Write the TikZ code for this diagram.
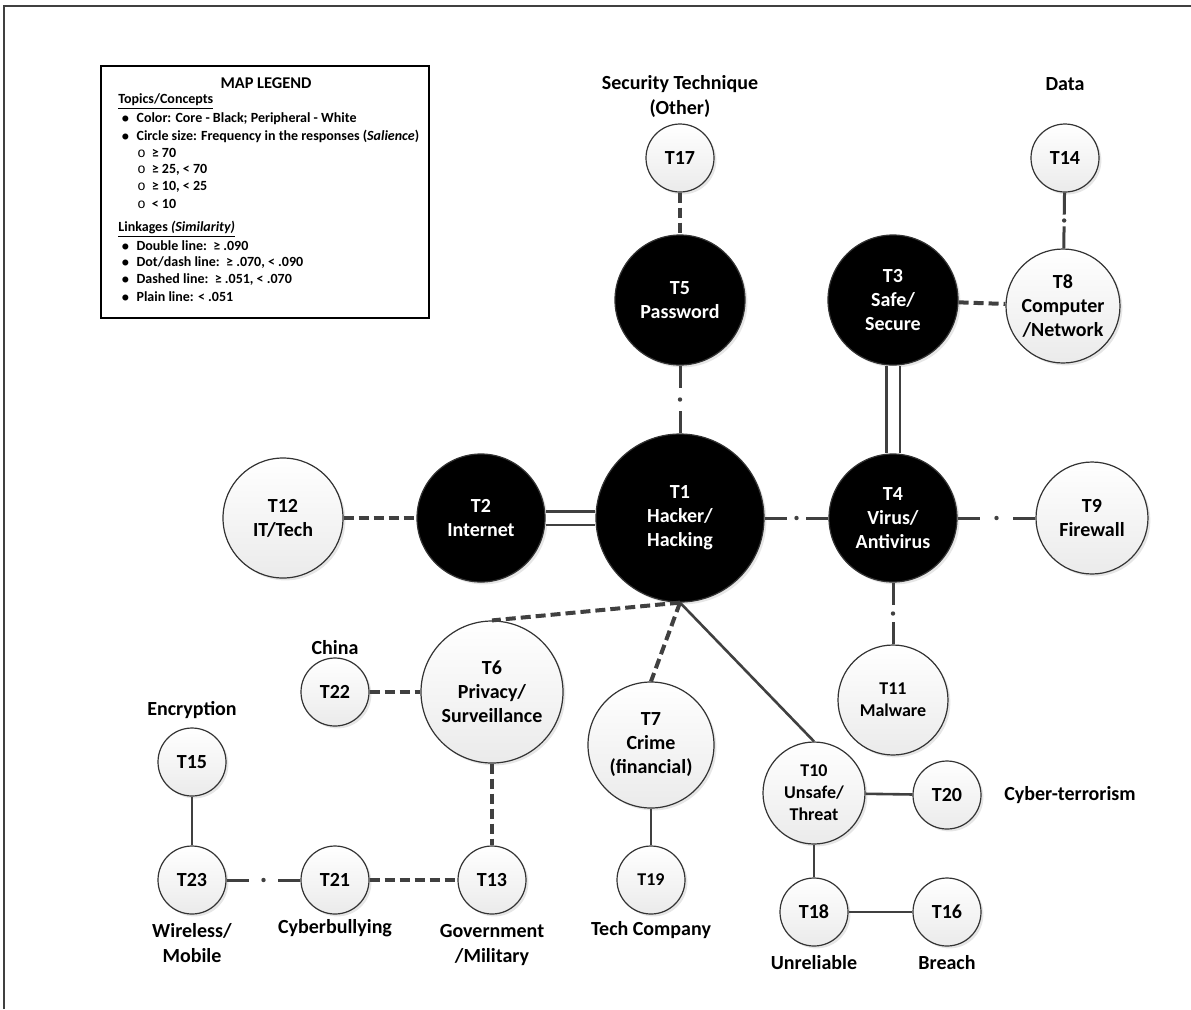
\documentclass[tikz,border=0pt]{standalone}
\usepackage{fontspec}
\setmainfont{Carlito}
\newfontfamily\subbulletfont{Liberation Mono}
\usetikzlibrary{shadows}

\definecolor{linkgray}{HTML}{404040}
\definecolor{rimgray}{HTML}{333333}

\begin{document}
\begin{tikzpicture}[x=0.5pt, y=-0.5pt]

% --- Global TikZ Styles ---
\tikzset{
    core/.style={
        circle,
        fill=black,
        draw=rimgray,
        line width=0.6pt,
        text=white,
        inner sep=0pt,
        align=center,
        font=\bfseries\fontsize{10}{12}\selectfont,
        drop shadow={opacity=0.2, shadow xshift=1.2pt, shadow yshift=-1.2pt}
    },
    peripheral/.style={
        circle,
        draw=rimgray,
        line width=0.6pt,
        top color=white,
        bottom color=black!8,
        inner sep=0pt,
        align=center,
        font=\bfseries\fontsize{10}{12}\selectfont,
        drop shadow={opacity=0.2, shadow xshift=1.2pt, shadow yshift=-1.2pt}
    },
    rad/.style={
        minimum size=#1pt
    },
    smalltext/.style={
        font=\bfseries\fontsize{9}{11}\selectfont
    },
    tag/.style={
        align=center,
        inner sep=0pt,
        font=\bfseries\fontsize{10}{12.5}\selectfont
    },
    plainlink/.style={
        draw=linkgray,
        line width=1.3pt
    },
    dashlink/.style={
        draw=linkgray,
        line width=2pt,
        dash pattern=on 5pt off 2.5pt
    },
    doublelink/.style={
        draw=linkgray,
        line width=1.4pt,
        double=white,
        double distance=5.5pt
    },
    dotdashlink/.style={
        draw=linkgray,
        line width=1.5pt,
        dash pattern=on 11pt off 500pt
    },
    linkdot/.style={
        circle,
        fill=linkgray,
        inner sep=0pt,
        minimum size=2.2pt
    },
    legendtext/.style={
        anchor=west,
        inner sep=0pt,
        font=\bfseries\fontsize{7}{8.5}\selectfont
    },
    frameline/.style={
        draw=linkgray,
        line width=1pt
    }
}

\newcommand{\legbullet}{$\bullet$\hspace{3.5pt}}
\newcommand{\legsub}{{\mdseries\subbulletfont o}\hspace{3pt}}

\useasboundingbox (0,0) rectangle (1191,1009);

% --- Outer frame ---
\draw[frameline] (4,1009) -- (4,6) -- (1191,6);

% =========================================================================
% --- Map legend ---
% =========================================================================
\draw[draw=black, line width=0.6pt] (101,66) rectangle (429,318);

\node[inner sep=0pt, font=\bfseries\fontsize{8.2}{10}\selectfont] (legtitle) at (266,83) {MAP LEGEND};

\node[legendtext] (legtopics) at (118,102) {\underline{Topics/Concepts}};
\node[legendtext] (legcolor)  at (121,119) {\legbullet Color: Core - Black; Peripheral - White};
\node[legendtext] (legsize)   at (121,136) {\legbullet Circle size: Frequency in the responses (\textit{Salience})};
\node[legendtext] (legsizea)  at (137,153) {\legsub ≥ 70};
\node[legendtext] (legsizeb)  at (137,170) {\legsub ≥ 25, < 70};
\node[legendtext] (legsizec)  at (137,187) {\legsub ≥ 10, < 25};
\node[legendtext] (legsized)  at (137,204) {\legsub < 10};

\node[legendtext] (leglinks)  at (118,229) {\underline{Linkages \textit{(Similarity)}}};
\node[legendtext] (legdouble) at (121,246) {\legbullet Double line:\ \ ≥ .090};
\node[legendtext] (legdotted) at (121,263) {\legbullet Dot/dash line:\ \ ≥ .070, < .090};
\node[legendtext] (legdashed) at (121,280) {\legbullet Dashed line:\ \ ≥ .051, < .070};
\node[legendtext] (legplain)  at (121,297) {\legbullet Plain line: < .051};

% =========================================================================
% --- Core topics (black) ---
% =========================================================================
\node[core, rad=84] (T1) at (680,518) {T1\\Hacker/\\Hacking};
\node[core, rad=64] (T2) at (481,518) {T2\\Internet};
\node[core, rad=65] (T3) at (893,300) {T3\\Safe/\\Secure};
\node[core, rad=64] (T4) at (893,518) {T4\\Virus/\\Antivirus};
\node[core, rad=65] (T5) at (680,300) {T5\\Password};

% =========================================================================
% --- Peripheral topics (white) ---
% =========================================================================
\node[peripheral, rad=71] (T6)  at (492,692) {T6\\Privacy/\\Surveillance};
\node[peripheral, rad=63] (T7)  at (651,745) {T7\\Crime\\(financial)};
\node[peripheral, rad=57] (T8)  at (1063,306) {T8\\Computer\\/Network};
\node[peripheral, rad=56] (T9)  at (1092,518) {T9\\Firewall};
\node[peripheral, rad=51, smalltext] (T10) at (814,793) {T10\\Unsafe/\\Threat};
\node[peripheral, rad=55, smalltext] (T11) at (893,700) {T11\\Malware};
\node[peripheral, rad=60] (T12) at (283,518) {T12\\IT/Tech};
\node[peripheral, rad=34] (T13) at (492,880) {T13};
\node[peripheral, rad=34] (T14) at (1065,158) {T14};
\node[peripheral, rad=34] (T15) at (192,762) {T15};
\node[peripheral, rad=34] (T16) at (947,912) {T16};
\node[peripheral, rad=34] (T17) at (680,158) {T17};
\node[peripheral, rad=34] (T18) at (814,912) {T18};
\node[peripheral, rad=34, smalltext] (T19) at (651,880) {T19};
\node[peripheral, rad=34] (T20) at (947,795) {T20};
\node[peripheral, rad=34] (T21) at (335,880) {T21};
\node[peripheral, rad=34] (T22) at (335,692) {T22};
\node[peripheral, rad=34] (T23) at (192,880) {T23};

% --- Outside labels ---
\node[tag] (lab17) at (680,96)   {Security Technique\\(Other)};
\node[tag] (lab14) at (1065,84)  {Data};
\node[tag] (lab22) at (335,648)  {China};
\node[tag] (lab15) at (192,710)  {Encryption};
\node[tag] (lab23) at (192,943)  {Wireless/\\Mobile};
\node[tag] (lab21) at (335,928)  {Cyberbullying};
\node[tag] (lab13) at (492,945)  {Government\\/Military};
\node[tag] (lab19) at (651,930)  {Tech Company};
\node[tag] (lab18) at (814,963)  {Unreliable};
\node[tag] (lab16) at (947,963)  {Breach};
\node[tag] (lab20) at (1070,795) {Cyber-terrorism};

% =========================================================================
% --- Linkages ---
% =========================================================================

% double lines
\draw[doublelink] (T2) -- (T1);
\draw[doublelink] (T3) -- (T4);

% dot/dash lines
\draw[dotdashlink] (T5) -- node[linkdot] {} (T1);
\draw[dotdashlink] (T1) -- (T5);
\draw[dotdashlink] (T14) -- node[linkdot] {} (T8);
\draw[dotdashlink] (T8) -- (T14);
\draw[dotdashlink] (T1) -- node[linkdot] {} (T4);
\draw[dotdashlink] (T4) -- (T1);
\draw[dotdashlink] (T4) -- node[linkdot] {} (T9);
\draw[dotdashlink] (T9) -- (T4);
\draw[dotdashlink] (T4) -- node[linkdot] {} (T11);
\draw[dotdashlink] (T11) -- (T4);
\draw[dotdashlink] (T23) -- node[linkdot] {} (T21);
\draw[dotdashlink] (T21) -- (T23);

% dashed lines
\draw[dashlink] (T17) -- (T5);
\draw[dashlink] (T3) -- (T8);
\draw[dashlink] (T12) -- (T2);
\draw[dashlink] (T1.south) -- (T6.north);
\draw[dashlink] (T1.south) -- (T7.north);
\draw[dashlink] (T22) -- (T6);
\draw[dashlink] (T6) -- (T13);
\draw[dashlink] (T21) -- (T13);

% plain lines
\draw[plainlink] (T1.south) -- (T10.north);
\draw[plainlink] (T15) -- (T23);
\draw[plainlink] (T7) -- (T19);
\draw[plainlink] (T10) -- (T20);
\draw[plainlink] (T10) -- (T18);
\draw[plainlink] (T18) -- (T16);

\end{tikzpicture}
\end{document}
